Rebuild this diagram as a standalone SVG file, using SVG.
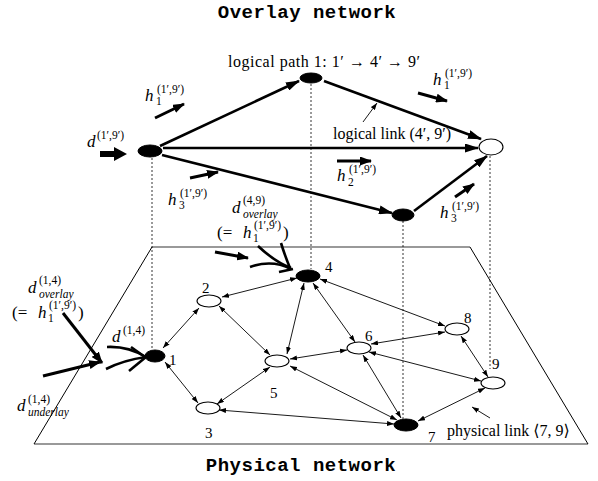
<svg xmlns="http://www.w3.org/2000/svg" width="598" height="481" viewBox="0 0 598 481">
<style>
.title{font-family:"Liberation Mono",monospace;font-weight:bold;font-size:19px;letter-spacing:0.5px;fill:#000}
.t{font-family:"Liberation Serif",serif;font-size:16px;fill:#000}
.n{font-family:"Liberation Serif",serif;font-size:15px;fill:#000}
.m{font-family:"Liberation Serif",serif;font-style:italic;font-size:17px;fill:#000}
.up{font-style:normal}
.sm{font-size:11.5px}
.br{font-family:"DejaVu Serif",serif}
.thick{stroke:#000;stroke-width:2.6;fill:none}
.harr{stroke:#000;stroke-width:3;fill:none}
.thin{stroke:#000;stroke-width:0.9;fill:none}
.dot{stroke:#000;stroke-width:0.8;stroke-dasharray:2,2;fill:none}
.plane-h{stroke:#777;stroke-width:1.6}
.plane-s{stroke:#000;stroke-width:1}
.fill{fill:#000;stroke:#000;stroke-width:1}
.open{fill:#fff;stroke:#000;stroke-width:1.1}
.curve{stroke:#000;stroke-width:2.6;fill:none;stroke-linecap:butt}
</style>
<defs>
<marker id="ah" markerUnits="userSpaceOnUse" markerWidth="7" markerHeight="5" refX="7" refY="2.5" orient="auto-start-reverse"><path d="M0,0 L7,2.5 L0,5 z" fill="#000"/></marker>
<marker id="ahT" markerUnits="userSpaceOnUse" markerWidth="14" markerHeight="9" refX="13" refY="4.5" orient="auto"><path d="M0,0 L14,4.5 L0,9 z" fill="#000"/></marker>
<marker id="ahM" markerUnits="userSpaceOnUse" markerWidth="12" markerHeight="9" refX="11" refY="4.5" orient="auto"><path d="M0,0 L12,4.5 L0,9 z" fill="#000"/></marker>
</defs>

<text class="title" x="307" y="18" text-anchor="middle">Overlay network</text>
<text class="title" x="301" y="471" text-anchor="middle">Physical network</text>

<g id="plane">
<line class="plane-h" x1="152" y1="247" x2="470" y2="247"/>
<line class="plane-h" x1="34" y1="444" x2="588" y2="444"/>
<line class="plane-s" x1="152" y1="247" x2="34" y2="444"/>
<line class="plane-s" x1="470" y1="247" x2="588" y2="444"/>
</g>

<g id="projections">
<line class="dot" x1="152" y1="158" x2="152" y2="349"/>
<line class="dot" x1="311" y1="84" x2="311" y2="269"/>
<line class="dot" x1="403" y1="221" x2="403" y2="419"/>
<line class="dot" x1="490" y1="156" x2="490" y2="369"/>
</g>

<g id="connectors">
<line class="thick" x1="160" y1="146" x2="299" y2="81" marker-end="url(#ahT)"/>
<line class="thick" x1="324" y1="81" x2="481" y2="139" marker-end="url(#ahT)"/>
<line class="thick" x1="163" y1="148" x2="478" y2="148" marker-end="url(#ahT)"/>
<line class="thick" x1="162" y1="155" x2="392" y2="213" marker-end="url(#ahT)"/>
<line class="thick" x1="414" y1="211" x2="487" y2="156" marker-end="url(#ahT)"/>
<line class="harr" x1="155" y1="118" x2="184" y2="104" marker-end="url(#ahM)"/>
<line class="harr" x1="190" y1="178" x2="218" y2="172" marker-end="url(#ahM)"/>
<line class="harr" x1="418" y1="93" x2="447" y2="101" marker-end="url(#ahM)"/>
<line class="harr" x1="337" y1="161" x2="371" y2="161" marker-end="url(#ahM)"/>
<line class="harr" x1="455" y1="197" x2="474" y2="184" marker-end="url(#ahM)"/>
<path d="M100,151 L114,151 L114,147 L127,154 L114,161 L114,157 L100,157 z" fill="#000"/>
<line class="harr" x1="215" y1="252" x2="248" y2="258" marker-end="url(#ahM)"/>
<line class="harr" x1="63" y1="313" x2="102" y2="363" marker-end="url(#ahM)"/>
<line class="harr" x1="43" y1="376" x2="100" y2="362" marker-end="url(#ahM)"/>
<path class="curve" d="M107,347 Q128,346 146,357"/>
<path class="curve" d="M131,347 L145,357"/>
<path class="curve" d="M106,369 Q124,360 146,357"/>
<path class="curve" d="M129,371 L146,357"/>
<path class="curve" d="M258,246 Q275,262 291,268"/>
<path class="curve" d="M281,243 Q285,256 290,268"/>
<path class="curve" d="M250,267 Q272,259 291,269"/>
<path class="curve" d="M279,272 L293,269"/>
<line class="thin" x1="363" y1="122" x2="377" y2="103" marker-end="url(#ah)"/>
<line class="thin" x1="490" y1="418" x2="472" y2="407" marker-end="url(#ah)"/>
<line class="thin" x1="163" y1="348" x2="199" y2="308" marker-start="url(#ah)" marker-end="url(#ah)"/>
<line class="thin" x1="165" y1="362" x2="198" y2="403" marker-start="url(#ah)" marker-end="url(#ah)"/>
<line class="thin" x1="222" y1="297" x2="297" y2="278" marker-start="url(#ah)" marker-end="url(#ah)"/>
<line class="thin" x1="219" y1="306" x2="270" y2="355" marker-start="url(#ah)" marker-end="url(#ah)"/>
<line class="thin" x1="304" y1="283" x2="287" y2="354" marker-start="url(#ah)" marker-end="url(#ah)"/>
<line class="thin" x1="313" y1="283" x2="355" y2="342" marker-start="url(#ah)" marker-end="url(#ah)"/>
<line class="thin" x1="320" y1="279" x2="445" y2="326" marker-start="url(#ah)" marker-end="url(#ah)"/>
<line class="thin" x1="290" y1="359" x2="347" y2="350" marker-start="url(#ah)" marker-end="url(#ah)"/>
<line class="thin" x1="270" y1="367" x2="217" y2="404" marker-start="url(#ah)" marker-end="url(#ah)"/>
<line class="thin" x1="290" y1="366" x2="397" y2="420" marker-start="url(#ah)" marker-end="url(#ah)"/>
<line class="thin" x1="219" y1="410" x2="394" y2="424" marker-start="url(#ah)" marker-end="url(#ah)"/>
<line class="thin" x1="363" y1="355" x2="401" y2="418" marker-start="url(#ah)" marker-end="url(#ah)"/>
<line class="thin" x1="371" y1="344" x2="445" y2="332" marker-start="url(#ah)" marker-end="url(#ah)"/>
<line class="thin" x1="369" y1="352" x2="481" y2="381" marker-start="url(#ah)" marker-end="url(#ah)"/>
<line class="thin" x1="461" y1="336" x2="488" y2="377" marker-start="url(#ah)" marker-end="url(#ah)"/>
<line class="thin" x1="418" y1="421" x2="485" y2="388" marker-start="url(#ah)" marker-end="url(#ah)"/>
</g>

<g id="o1"><ellipse class="fill" cx="150" cy="151" rx="12" ry="6"/></g>
<g id="o4"><ellipse class="fill" cx="311" cy="78" rx="11" ry="5"/></g>
<g id="o7"><ellipse class="fill" cx="403" cy="215" rx="11" ry="6"/></g>
<g id="o9"><ellipse class="open" cx="491" cy="147" rx="12" ry="8"/></g>

<g id="n1"><ellipse class="fill" cx="155" cy="356" rx="10" ry="6"/><text class="n" x="169" y="365">1</text></g>
<g id="n2"><ellipse class="open" cx="209" cy="301" rx="12" ry="6"/><text class="n" x="202" y="293">2</text></g>
<g id="n3"><ellipse class="open" cx="208" cy="408" rx="12" ry="6"/><text class="n" x="205" y="438">3</text></g>
<g id="n4"><ellipse class="fill" cx="308" cy="276" rx="12" ry="6"/><text class="n" x="325" y="272">4</text></g>
<g id="n5"><ellipse class="open" cx="277" cy="361" rx="12" ry="6"/><text class="n" x="270" y="398">5</text></g>
<g id="n6"><ellipse class="open" cx="359" cy="348" rx="12" ry="6"/><text class="n" x="365" y="341">6</text></g>
<g id="n7"><ellipse class="fill" cx="406" cy="425" rx="12" ry="6"/><text class="n" x="428" y="442">7</text></g>
<g id="n8"><ellipse class="open" cx="457" cy="329" rx="12" ry="6"/><text class="n" x="464" y="323">8</text></g>
<g id="n9"><ellipse class="open" cx="493" cy="383" rx="12" ry="6"/><text class="n" x="492" y="369">9</text></g>

<g id="labels">
<text class="t" x="228" y="67" textLength="192" lengthAdjust="spacing">logical path 1: 1′ → 4′ → 9′</text>
<text class="t" x="333" y="139">logical link (4′, 9′)</text>
<text class="t" x="447" y="436">physical link <tspan class="br">⟨</tspan>7, 9<tspan class="br">⟩</tspan></text>

<text class="m" x="145" y="101">h<tspan class="sm up" x="156" y="105">1</tspan><tspan class="sm up" x="157" y="93">(1′,9′)</tspan></text>
<text class="m" x="87" y="147">d<tspan class="sm up" x="97" y="139">(1′,9′)</tspan></text>
<text class="m" x="168" y="205">h<tspan class="sm up" x="179" y="209">3</tspan><tspan class="sm up" x="180" y="197">(1′,9′)</tspan></text>
<text class="m" x="433" y="85">h<tspan class="sm up" x="444" y="89">1</tspan><tspan class="sm up" x="445" y="77">(1′,9′)</tspan></text>
<text class="m" x="337" y="181">h<tspan class="sm up" x="348" y="186">2</tspan><tspan class="sm up" x="349" y="173">(1′,9′)</tspan></text>
<text class="m" x="440" y="218">h<tspan class="sm up" x="451" y="222">3</tspan><tspan class="sm up" x="452" y="210">(1′,9′)</tspan></text>

<text class="m" x="232" y="213">d<tspan class="sm up" x="243" y="204">(4,9)</tspan><tspan class="sm" x="243" y="218">overlay</tspan></text>
<text class="m" x="217" y="238"><tspan class="up">(=</tspan><tspan x="243">h</tspan><tspan class="sm up" x="253" y="242">1</tspan><tspan class="sm up" x="254" y="229">(1′,9′)</tspan><tspan class="up" x="283" y="238">)</tspan></text>

<text class="m" x="28" y="293">d<tspan class="sm up" x="39" y="284">(1,4)</tspan><tspan class="sm" x="39" y="298">overlay</tspan></text>
<text class="m" x="12" y="318"><tspan class="up">(=</tspan><tspan x="38">h</tspan><tspan class="sm up" x="48" y="322">1</tspan><tspan class="sm up" x="49" y="309">(1′,9′)</tspan><tspan class="up" x="78" y="318">)</tspan></text>
<text class="m" x="112" y="342">d<tspan class="sm up" x="123" y="334">(1,4)</tspan></text>
<text class="m" x="17" y="411">d<tspan class="sm up" x="28" y="403">(1,4)</tspan><tspan class="sm" x="28" y="416">underlay</tspan></text>
</g>
</svg>
